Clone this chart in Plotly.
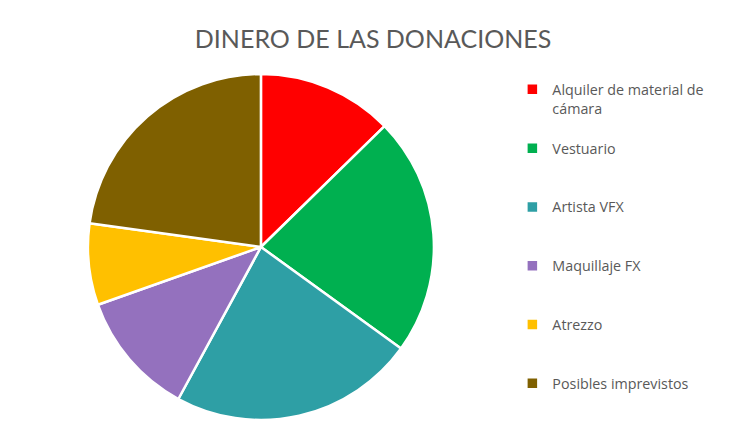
import plotly.graph_objects as go

# gastos previstos con el dinero de las donaciones
conceptos = ["Alquiler de material de<br>cámara", "Vestuario", "Artista VFX",
             "Maquillaje FX", "Atrezzo", "Posibles imprevistos"]
importes = [500, 880, 905, 460, 300, 900]
colores = ["#FF0000", "#00B050", "#2E9FA5", "#9471BE", "#FFC000", "#7F6000"]

# relleno con lineas vacias para separar las entradas de la leyenda
etiquetas = []
for c in conceptos:
    n = c.count("<br>") + 1
    etiquetas.append(c + "<br> " * (3 - n))

fig = go.Figure()
fig.add_trace(go.Pie(
    labels=etiquetas,
    values=importes,
    sort=False,
    direction="clockwise",
    rotation=0,
    textinfo="none",
    hoverinfo="percent+value",
    marker=dict(colors=colores, line=dict(color="white", width=2.5)),
    domain=dict(x=[0.107, 0.572], y=[0.070, 0.851]),
))

fig.update_layout(
    width=745, height=443,
    margin=dict(l=0, r=0, t=0, b=0),
    paper_bgcolor="white",
    font=dict(family="Lato", color="#595959"),
    title=dict(text="DINERO DE LAS DONACIONES", x=0.49, xanchor="center",
               y=0.93, yanchor="middle", font=dict(size=25, color="#595959")),
    legend=dict(x=0.677, y=0.852, xanchor="left", yanchor="top", valign="top",
                font=dict(family="Open Sans", size=14.3, color="#595959"),
                itemwidth=30, traceorder="normal"),
)

fig.write_html("out.html")
